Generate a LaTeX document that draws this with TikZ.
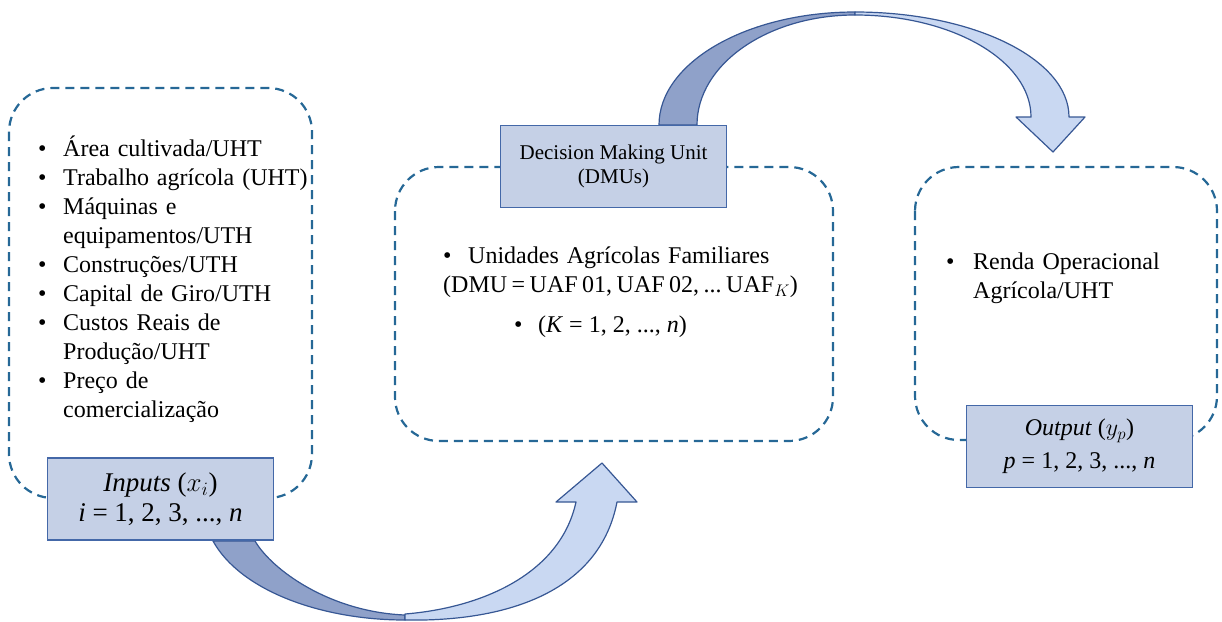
\documentclass[tikz,border=0pt]{standalone}
\usepackage{fix-cm}
\usepackage{fontspec}
\setmainfont{Liberation Serif}
\usetikzlibrary{positioning}

\definecolor{dashblue}{RGB}{38,104,150}
\definecolor{boxfill}{RGB}{197,208,230}
\definecolor{boxline}{RGB}{68,104,168}
\definecolor{banddark}{RGB}{143,161,201}
\definecolor{bandlight}{RGB}{201,216,242}
\definecolor{bandline}{RGB}{55,87,148}

\newcommand{\bul}[1][25pt]{\makebox[#1][l]{\textbullet}}
\frenchspacing

\begin{document}
\begin{tikzpicture}[x=1pt,y=-1pt]
    \tikzstyle{region}=[draw=dashblue, line width=2.2pt, dash pattern=on 9pt off 6pt, rounded corners=44pt]
    \tikzstyle{labelbox}=[draw=boxline, fill=boxfill, line width=1.5pt, minimum width=226pt, minimum height=82pt, align=center, inner sep=0pt]
    \tikzstyle{itemlist}=[inner sep=0pt, anchor=north west, align=left, font=\fontsize{24}{29}\selectfont]
    \tikzstyle{backband}=[fill=banddark, draw=bandline, line width=1.2pt, line join=round]
    \tikzstyle{frontband}=[fill=bandlight, draw=bandline, line width=1.2pt, line join=round]

    \useasboundingbox (0,0) rectangle (1222,621);

    % dashed regions
    \draw[region] (9,88) rectangle (312,498);
    \draw[region] (395,167) rectangle (833,441);
    \draw[region] (915,167) rectangle (1217,440);

    % curved arrow: inputs -> DMUs
    \draw[backband] (213,541) .. controls (240,590) and (320,620) .. (405,620)
        -- (405,615) .. controls (330,612) and (272,570) .. (255,541) -- cycle;
    \draw[frontband] (405,620) .. controls (510,622) and (600,590) .. (617,502)
        -- (637,502) -- (602,463) -- (556,502) -- (576,502)
        .. controls (560,575) and (480,608) .. (405,614) -- cycle;

    % curved arrow: DMUs -> output
    \draw[backband] (659,125) arc[start angle=180, end angle=270, x radius=196, y radius=113]
        -- (855,15) arc[start angle=270, end angle=180, x radius=158, y radius=110] -- cycle;
    \draw[frontband] (855,12) arc[start angle=270, end angle=360, x radius=214, y radius=105]
        -- (1085,117) -- (1053,152) -- (1016,117) -- (1031,117)
        arc[start angle=360, end angle=270, x radius=176, y radius=102] -- cycle;

    % boxes
    \node[labelbox, font=\fontsize{27}{30}\selectfont] (inputs) at (160.5,499)
        {\textit{Inputs} ($x_i$)\\ \textit{i} = 1, 2, 3, ..., \textit{n}};
    \node[labelbox, font=\fontsize{21}{24}\selectfont] (dmu) at (613.5,166.5)
        {Decision Making Unit\\(DMUs)};
    \node[labelbox, font=\fontsize{24}{33}\selectfont] (output) at (1079.5,446.5)
        {\textit{Output} ($y_p$)\\ \textit{p} = 1, 2, 3, ..., \textit{n}};

    % lists
    \node[itemlist, text width=270pt] (inlist) at (38,136) {%
        \bul Área cultivada/UHT\\
        \bul Trabalho agrícola (UHT)\\
        \bul Máquinas e\\
        \hspace*{25pt}equipamentos/UTH\\
        \bul Construções/UTH\\
        \bul Capital de Giro/UTH\\
        \bul Custos Reais de\\
        \hspace*{25pt}Produção/UHT\\
        \bul Preço de\\
        \hspace*{25pt}comercialização};
    \node[itemlist, text width=400pt] (dmulist) at (443,247)
        {\bul Unidades Agrícolas Familiares\\{\spaceskip=4.5pt (DMU = UAF 01, UAF 02, ... UAF$_K$)}};
    \node[itemlist, anchor=base west] (klist) at (514,332)
        {\bul[24pt](\textit{K} = 1, 2, ..., \textit{n})};
    \node[itemlist, text width=260pt] (outlist) at (946,253)
        {\bul[27pt]Renda Operacional\\\hspace*{27pt}Agrícola/UHT};
\end{tikzpicture}
\end{document}
